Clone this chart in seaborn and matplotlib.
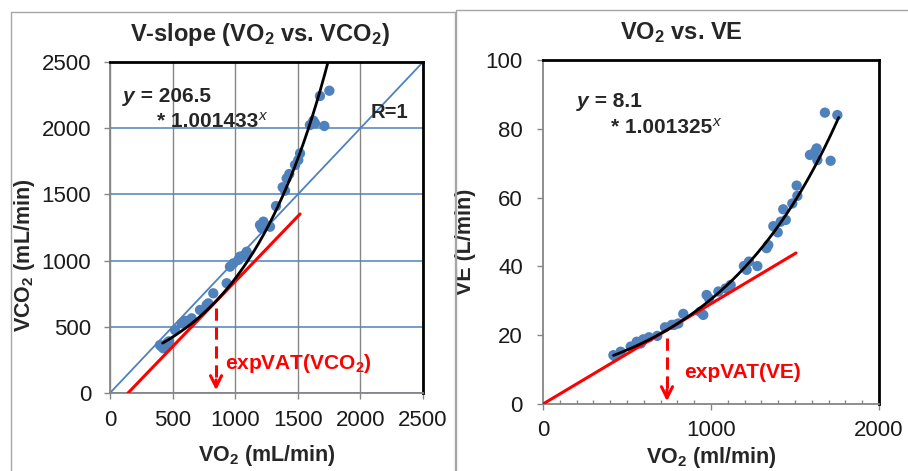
import numpy as np
import matplotlib
matplotlib.use('Agg')
import matplotlib.pyplot as plt
import matplotlib.patches as patches
import seaborn as sns

# V-slope scatter: VO2 vs VCO2 (mL/min)
vslope_vo2 = [399, 413, 426, 440, 453, 470, 519, 572, 600, 652, 719, 772, 785, 825,
              932, 958, 985, 1025, 1038, 1070, 1092, 1198, 1212, 1225, 1238, 1278,
              1326, 1379, 1398, 1411, 1432, 1478, 1504, 1518, 1597, 1624, 1637,
              1677, 1712, 1752]
vslope_vco2 = [362, 350, 338, 355, 375, 390, 476, 526, 545, 564, 627, 665, 677, 753,
               829, 954, 979, 1005, 1030, 1040, 1067, 1269, 1244, 1294, 1269, 1256,
               1412, 1554, 1528, 1621, 1654, 1722, 1760, 1810, 2024, 2057, 2037,
               2243, 2017, 2283]

# VO2 vs VE scatter: VO2 (ml/min), VE (L/min)
ve_vo2 = [419, 429, 462, 522, 558, 582, 597, 631, 680, 726, 766, 780, 805, 835,
          935, 954, 974, 988, 1044, 1087, 1117, 1196, 1212, 1226, 1276, 1331, 1341,
          1371, 1397, 1415, 1430, 1445, 1484, 1510, 1514, 1589, 1619, 1629, 1633,
          1678, 1712, 1752]
ve_ve = [14.2, 13.8, 15.2, 16.7, 18.1, 17.6, 18.8, 19.4, 19.8, 22.3, 23.0, 23.0,
         23.4, 26.2, 26.8, 25.9, 31.7, 30.7, 32.7, 33.6, 34.6, 40.1, 39.0, 41.4,
         40.1, 45.3, 46.2, 51.7, 49.9, 53.0, 56.6, 53.5, 58.3, 63.5, 60.5, 72.4,
         73.3, 74.3, 70.9, 84.7, 70.7, 84.0]

# exponential trendlines as printed on the chart
vslope_fit = (206.5, 1.001433)
ve_fit = (8.1, 1.001325)
fit_range = (420, 1760)

# red tangent lines (end points) and expVAT arrows
vslope_red_x = [144, 1518]
vslope_red_y = [0, 1352]
ve_red_x = [0, 1506]
ve_red_y = [0, 43.9]
vslope_vat = (847, 642)
ve_vat = (738, 19.2)

blue = '#4F81BD'
gray = '#868686'
red = '#FF0000'

sns.set_style('white')
plt.rcParams['font.family'] = ['Liberation Sans', 'DejaVu Sans']
plt.rcParams['mathtext.default'] = 'regular'

fig = plt.figure(figsize=(9.08, 4.71), dpi=100)

# panel frames
fig.patches.append(patches.Rectangle((11 / 908, -0.1), 444 / 908, 1.1 - 12 / 471,
                                     transform=fig.transFigure, fill=False,
                                     edgecolor='#A6A6A6', lw=1))
fig.patches.append(patches.Rectangle((456 / 908, -0.1), 0.6, 1.1 - 10 / 471,
                                     transform=fig.transFigure, fill=False,
                                     edgecolor='#A6A6A6', lw=1))

ax1 = fig.add_axes([110 / 908, 1 - 393 / 471, 313 / 908, 331 / 471])
ax2 = fig.add_axes([543 / 908, 1 - 404 / 471, 336 / 908, 344 / 471])


def style_axes(ax, pad_x, pad_y):
    for side in ['top', 'right']:
        ax.spines[side].set_color('black')
        ax.spines[side].set_linewidth(2)
    for side in ['left', 'bottom']:
        ax.spines[side].set_color(gray)
        ax.spines[side].set_linewidth(1.3)
    ax.tick_params(axis='both', which='major', direction='out', length=4.5,
                   width=1, color=gray, labelsize=16, labelcolor='#1a1a1a')
    ax.tick_params(axis='x', which='major', pad=pad_x, bottom=True)
    ax.tick_params(axis='y', which='major', pad=pad_y, left=True)


def eq_label(ax, x, y, a):
    t = ax.text(x, y, 'y', fontsize=15, fontweight='bold', fontstyle='italic',
                va='center', ha='left')
    ax.annotate(' = ' + str(a), xy=(1, 0), xycoords=t, va='bottom', ha='left',
                fontsize=15, fontweight='bold')
    return t


# ---------- left: V-slope ----------
ax1.plot([0, 2500], [0, 2500], color=blue, lw=1.3, zorder=2)
sns.scatterplot(x=vslope_vo2, y=vslope_vco2, ax=ax1, color=blue, s=55,
                edgecolor='none', zorder=3)
ax1.plot(vslope_red_x, vslope_red_y, color=red, lw=2.2, zorder=4)
xs = np.linspace(fit_range[0], fit_range[1], 200)
ax1.plot(xs, vslope_fit[0] * vslope_fit[1] ** xs, color='black', lw=2, zorder=5)
ax1.plot([vslope_vat[0], vslope_vat[0]], [vslope_vat[1], 80], color=red, lw=2.2,
         dashes=(4, 2.2), zorder=5)
ax1.annotate('', xy=(vslope_vat[0], 0), xytext=(vslope_vat[0], 120),
             arrowprops=dict(arrowstyle='->,head_length=0.8,head_width=0.4',
                             color=red, lw=2.2), zorder=5)

ax1.set_xlim(0, 2500)
ax1.set_ylim(0, 2500)
ax1.set_xticks(range(0, 2501, 500))
ax1.set_yticks(range(0, 2501, 500))
ax1.xaxis.grid(True, color=gray, lw=1)
ax1.yaxis.grid(True, color=blue, lw=1.1)
ax1.set_axisbelow(True)
style_axes(ax1, 8, 9)

ax1.set_xlabel('VO$_2$ (mL/min)', fontsize=15.5, fontweight='bold')
ax1.set_ylabel('VCO$_2$ (mL/min)', fontsize=15.5, fontweight='bold')
ax1.xaxis.set_label_coords(0.5, -0.15)
ax1.yaxis.set_label_coords(-0.232, 0.417)

eq_label(ax1, 104, 2243, 206.5)
t1b = ax1.text(375, 2054, '* 1.001433', fontsize=15, fontweight='bold',
               va='center', ha='left')
ax1.annotate('x', xy=(1, 0.75), xycoords=t1b, va='center', ha='left',
             fontsize=11, fontstyle='italic')
ax1.text(2084, 2115, 'R=1', fontsize=14.5, fontweight='bold', va='center', ha='left')
ax1.text(918, 226, 'expVAT(VCO$_2$)', fontsize=15, fontweight='bold', color=red,
         va='center', ha='left')

fig.text(260 / 908, 1 - 35 / 471, 'V-slope (VO$_2$ vs. VCO$_2$)', fontsize=17,
         fontweight='bold', ha='center', va='center')

# ---------- right: VO2 vs VE ----------
sns.scatterplot(x=ve_vo2, y=ve_ve, ax=ax2, color=blue, s=55, edgecolor='none',
                zorder=3)
ax2.plot(ve_red_x, ve_red_y, color=red, lw=2.2, zorder=4)
ax2.plot(xs, ve_fit[0] * ve_fit[1] ** xs, color='black', lw=2, zorder=5)
ax2.plot([ve_vat[0], ve_vat[0]], [ve_vat[1], 3.5], color=red, lw=2.2,
         dashes=(4, 2.2), zorder=5)
ax2.annotate('', xy=(ve_vat[0], 0), xytext=(ve_vat[0], 5),
             arrowprops=dict(arrowstyle='->,head_length=0.8,head_width=0.4',
                             color=red, lw=2.2), zorder=5)

ax2.set_xlim(0, 2000)
ax2.set_ylim(0, 100)
ax2.set_xticks([0, 1000, 2000])
ax2.set_xticks(range(0, 2001, 100), minor=True)
ax2.set_yticks(range(0, 101, 20))
ax2.grid(False)
style_axes(ax2, 7, 10)
ax2.tick_params(axis='x', which='minor', direction='in', length=3, width=1,
                color=gray, bottom=True)

ax2.set_xlabel('VO$_2$ (ml/min)', fontsize=15.5, fontweight='bold')
ax2.set_ylabel('VE (L/min)', fontsize=15.5, fontweight='bold')
ax2.xaxis.set_label_coords(0.5, -0.118)
ax2.yaxis.set_label_coords(-0.199, 0.471)

eq_label(ax2, 202, 87.8, 8.1)
t2b = ax2.text(405, 80.5, '* 1.001325', fontsize=15, fontweight='bold',
               va='center', ha='left')
ax2.annotate('x', xy=(1, 0.75), xycoords=t2b, va='center', ha='left',
             fontsize=11, fontstyle='italic')
ax2.text(839, 9.3, 'expVAT(VE)', fontsize=15, fontweight='bold', color=red,
         va='center', ha='left')

fig.text(681 / 908, 1 - 33 / 471, 'VO$_2$ vs. VE', fontsize=17,
         fontweight='bold', ha='center', va='center')

fig.savefig('out.png', dpi=100)
